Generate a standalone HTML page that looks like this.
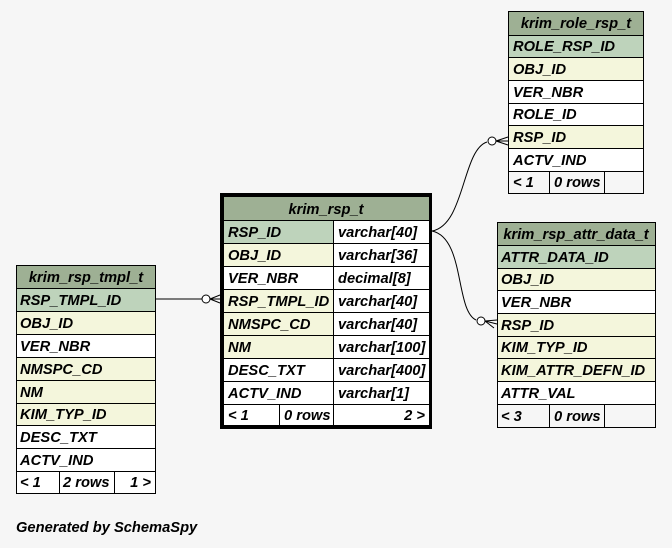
<!DOCTYPE html>
<html><head><meta charset="utf-8"><style>
html,body{margin:0;padding:0;background:#f6f6f6;}
svg{display:block;}
text{font-family:"Liberation Sans",sans-serif;font-weight:bold;font-style:italic;font-size:14.7px;fill:#000;}
</style></head><body>
<svg width="672" height="548" viewBox="0 0 672 548" xmlns="http://www.w3.org/2000/svg">
<rect width="672" height="548" fill="#f6f6f6"/>

<g fill="none" stroke="#000" stroke-width="1">
<path d="M432,231 C465,225 462,150 487,142"/>
<path d="M432,231 C465,238 455,310 476,320"/>
<line x1="155" y1="299" x2="202" y2="299"/>
<circle cx="492" cy="141" r="4" fill="#fff"/>
<circle cx="481" cy="321" r="4" fill="#fff"/>
<circle cx="206" cy="299" r="4" fill="#fff"/>
<path d="M496,141 L508,137 M496,141 L508,141 M496,141 L508,145"/>
<path d="M485,321 L497,324 M485,321 L494,328 M485,321 L497,320"/>
<path d="M210,299 L220,295 M210,299 L220,299 M210,299 L220,303"/>
</g>

<g stroke="#000" stroke-width="1">
<rect x="16.5" y="265.5" width="139" height="23" fill="#9eb094"/>
<rect x="16.5" y="288.5" width="139" height="23" fill="#bed3bb"/>
<rect x="16.5" y="311.5" width="139" height="23" fill="#f4f6dc"/>
<rect x="16.5" y="334.5" width="139" height="23" fill="#fff"/>
<rect x="16.5" y="357.5" width="139" height="23" fill="#f4f6dc"/>
<rect x="16.5" y="380.5" width="139" height="23" fill="#f4f6dc"/>
<rect x="16.5" y="403.5" width="139" height="22" fill="#f4f6dc"/>
<rect x="16.5" y="425.5" width="139" height="23" fill="#fff"/>
<rect x="16.5" y="448.5" width="139" height="23" fill="#fff"/>
<rect x="16.5" y="471.5" width="139" height="22" fill="#fff"/>
<line x1="59.5" y1="471" x2="59.5" y2="493"/>
<line x1="114.5" y1="471" x2="114.5" y2="493"/>
</g>
<text x="86" y="282" text-anchor="middle">krim_rsp_tmpl_t</text>
<text x="20" y="305">RSP_TMPL_ID</text>
<text x="20" y="328">OBJ_ID</text>
<text x="20" y="351">VER_NBR</text>
<text x="20" y="374">NMSPC_CD</text>
<text x="20" y="397">NM</text>
<text x="20" y="419">KIM_TYP_ID</text>
<text x="20" y="442">DESC_TXT</text>
<text x="20" y="465">ACTV_IND</text>
<text x="20" y="487">&lt; 1</text>
<text x="63" y="487">2 rows</text>
<text x="151" y="487" text-anchor="end">1 &gt;</text>

<rect x="221.5" y="194.5" width="209" height="233" fill="none" stroke="#000" stroke-width="3"/>
<g stroke="#000" stroke-width="1">
<rect x="223.5" y="196.5" width="206" height="24" fill="#9eb094"/>
<rect x="223.5" y="220.5" width="110" height="23" fill="#bed3bb"/>
<rect x="223.5" y="243.5" width="110" height="23" fill="#f4f6dc"/>
<rect x="223.5" y="266.5" width="110" height="23" fill="#fff"/>
<rect x="223.5" y="289.5" width="110" height="23" fill="#f4f6dc"/>
<rect x="223.5" y="312.5" width="110" height="23" fill="#f4f6dc"/>
<rect x="223.5" y="335.5" width="110" height="23" fill="#f4f6dc"/>
<rect x="223.5" y="358.5" width="110" height="23" fill="#fff"/>
<rect x="223.5" y="381.5" width="110" height="23" fill="#fff"/>
<rect x="333.5" y="220.5" width="96" height="23" fill="#fff"/>
<rect x="333.5" y="243.5" width="96" height="23" fill="#fff"/>
<rect x="333.5" y="266.5" width="96" height="23" fill="#fff"/>
<rect x="333.5" y="289.5" width="96" height="23" fill="#fff"/>
<rect x="333.5" y="312.5" width="96" height="23" fill="#fff"/>
<rect x="333.5" y="335.5" width="96" height="23" fill="#fff"/>
<rect x="333.5" y="358.5" width="96" height="23" fill="#fff"/>
<rect x="333.5" y="381.5" width="96" height="23" fill="#fff"/>
<rect x="223.5" y="404.5" width="206" height="21" fill="#fff"/>
<line x1="279.5" y1="404" x2="279.5" y2="426"/>
<line x1="333.5" y1="404" x2="333.5" y2="426"/>
</g>
<text x="326" y="214" text-anchor="middle">krim_rsp_t</text>
<text x="228" y="237">RSP_ID</text><text x="338" y="237">varchar[40]</text>
<text x="228" y="260">OBJ_ID</text><text x="338" y="260">varchar[36]</text>
<text x="228" y="283">VER_NBR</text><text x="338" y="283">decimal[8]</text>
<text x="228" y="306">RSP_TMPL_ID</text><text x="338" y="306">varchar[40]</text>
<text x="228" y="329">NMSPC_CD</text><text x="338" y="329">varchar[40]</text>
<text x="228" y="352">NM</text><text x="338" y="352">varchar[100]</text>
<text x="228" y="375">DESC_TXT</text><text x="338" y="375">varchar[400]</text>
<text x="228" y="398">ACTV_IND</text><text x="338" y="398">varchar[1]</text>
<text x="228" y="420">&lt; 1</text>
<text x="284" y="420">0 rows</text>
<text x="425" y="420" text-anchor="end">2 &gt;</text>

<g stroke="#000" stroke-width="1">
<rect x="508.5" y="11.5" width="135" height="24" fill="#9eb094"/>
<rect x="508.5" y="35.5" width="135" height="22" fill="#bed3bb"/>
<rect x="508.5" y="57.5" width="135" height="23" fill="#f4f6dc"/>
<rect x="508.5" y="80.5" width="135" height="23" fill="#fff"/>
<rect x="508.5" y="103.5" width="135" height="22" fill="#fff"/>
<rect x="508.5" y="125.5" width="135" height="23" fill="#f4f6dc"/>
<rect x="508.5" y="148.5" width="135" height="23" fill="#fff"/>
<rect x="508.5" y="171.5" width="135" height="22" fill="#f6f6f6"/>
<line x1="549.5" y1="171" x2="549.5" y2="193"/>
<line x1="604.5" y1="171" x2="604.5" y2="193"/>
</g>
<text x="576" y="28" text-anchor="middle">krim_role_rsp_t</text>
<text x="513" y="51">ROLE_RSP_ID</text>
<text x="513" y="74">OBJ_ID</text>
<text x="513" y="97">VER_NBR</text>
<text x="513" y="119">ROLE_ID</text>
<text x="513" y="142">RSP_ID</text>
<text x="513" y="165">ACTV_IND</text>
<text x="513" y="187">&lt; 1</text>
<text x="554" y="187">0 rows</text>

<g stroke="#000" stroke-width="1">
<rect x="497.5" y="222.5" width="158" height="23" fill="#9eb094"/>
<rect x="497.5" y="245.5" width="158" height="23" fill="#bed3bb"/>
<rect x="497.5" y="268.5" width="158" height="22" fill="#f4f6dc"/>
<rect x="497.5" y="290.5" width="158" height="23" fill="#fff"/>
<rect x="497.5" y="313.5" width="158" height="23" fill="#f4f6dc"/>
<rect x="497.5" y="336.5" width="158" height="22" fill="#f4f6dc"/>
<rect x="497.5" y="358.5" width="158" height="23" fill="#f4f6dc"/>
<rect x="497.5" y="381.5" width="158" height="23" fill="#fff"/>
<rect x="497.5" y="404.5" width="158" height="23" fill="#f6f6f6"/>
<line x1="549.5" y1="404" x2="549.5" y2="427"/>
<line x1="604.5" y1="404" x2="604.5" y2="427"/>
</g>
<text x="576" y="239" text-anchor="middle">krim_rsp_attr_data_t</text>
<text x="501" y="262">ATTR_DATA_ID</text>
<text x="501" y="284">OBJ_ID</text>
<text x="501" y="307">VER_NBR</text>
<text x="501" y="330">RSP_ID</text>
<text x="501" y="352">KIM_TYP_ID</text>
<text x="501" y="375">KIM_ATTR_DEFN_ID</text>
<text x="501" y="398">ATTR_VAL</text>
<text x="501" y="421">&lt; 3</text>
<text x="554" y="421">0 rows</text>

<text x="16" y="532">Generated by SchemaSpy</text>
</svg>
</body></html>
